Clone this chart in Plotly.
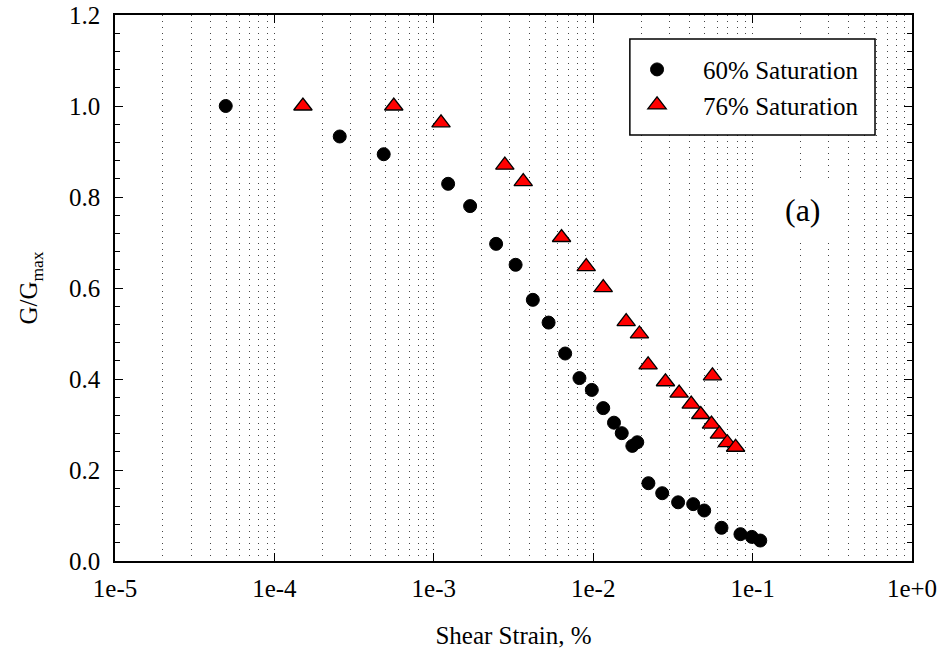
import plotly.graph_objects as go

# 60% Saturation (circles)
strain_60 = [4.95e-5, 2.57e-4, 4.85e-4, 1.23e-3, 1.69e-3, 2.46e-3, 3.26e-3, 4.18e-3,
             5.25e-3, 6.67e-3, 8.2e-3, 9.8e-3, 1.156e-2, 1.35e-2, 1.51e-2, 1.76e-2,
             1.89e-2, 2.22e-2, 2.71e-2, 3.41e-2, 4.24e-2, 4.97e-2, 6.38e-2, 8.39e-2,
             9.89e-2, 1.117e-1]
ggmax_60 = [1.0, 0.933, 0.894, 0.829, 0.780, 0.697, 0.651, 0.574,
            0.524, 0.456, 0.402, 0.376, 0.336, 0.304, 0.281, 0.253,
            0.261, 0.171, 0.149, 0.129, 0.125, 0.111, 0.073, 0.059,
            0.053, 0.045]

# 76% Saturation (triangles)
strain_76 = [1.51e-4, 5.61e-4, 1.11e-3, 2.79e-3, 3.64e-3, 6.33e-3, 9.04e-3, 1.156e-2,
             1.61e-2, 1.95e-2, 2.21e-2, 2.84e-2, 3.46e-2, 4.12e-2, 4.73e-2, 5.52e-2,
             5.6e-2, 6.19e-2, 6.94e-2, 7.82e-2]
ggmax_76 = [1.0, 1.0, 0.963, 0.870, 0.834, 0.711, 0.647, 0.601,
            0.526, 0.499, 0.431, 0.394, 0.369, 0.345, 0.322, 0.301,
            0.407, 0.279, 0.260, 0.250]

x_tickvals = [1e-5, 1e-4, 1e-3, 1e-2, 1e-1, 1e0]
x_ticktext = ["1e-5", "1e-4", "1e-3", "1e-2", "1e-1", "1e+0"]
y_tickvals = [0.0, 0.2, 0.4, 0.6, 0.8, 1.0, 1.2]
y_ticktext = ["0.0", "0.2", "0.4", "0.6", "0.8", "1.0", "1.2"]

FONT = "Times New Roman, serif"

fig = go.Figure()
fig.add_trace(go.Scatter(
    x=strain_60, y=ggmax_60, mode="markers", name="60% Saturation",
    marker=dict(symbol="circle", size=13, color="black", line=dict(color="black", width=1)),
))
fig.add_trace(go.Scatter(
    x=strain_76, y=ggmax_76, mode="markers", name="76% Saturation",
    marker=dict(symbol="triangle-up", size=16, color="#ff0000", line=dict(color="black", width=1.3)),
))

fig.update_layout(
    width=943, height=655,
    margin=dict(l=115, r=31, t=15, b=94),
    paper_bgcolor="white", plot_bgcolor="white",
    font=dict(family=FONT, size=24, color="black"),
    showlegend=True,
    legend=dict(
        x=0.6224, y=0.942, xanchor="left", yanchor="top",
        bgcolor="rgba(0,0,0,0)", borderwidth=0,
        font=dict(family=FONT, size=25),
        itemwidth=82, tracegroupgap=0,
    ),
    shapes=[dict(
        type="rect", xref="paper", yref="paper",
        x0=0.646, x1=0.9536, y0=0.780, y1=0.956,
        line=dict(color="black", width=1.5), fillcolor="white", layer="above",
    )],
    xaxis=dict(
        type="log", range=[-5, 0], automargin=False,
        tickvals=x_tickvals, ticktext=x_ticktext,
        ticks="inside", ticklen=8, tickwidth=1.2, tickcolor="black",
        showline=True, linecolor="black", linewidth=1.5, mirror="ticks",
        showgrid=False, zeroline=False, ticklabelstandoff=4,
        minor=dict(dtick="D1", showgrid=True, griddash="1px,5px", gridcolor="#444444",
                   gridwidth=1, ticks=""),
        title=dict(text="Shear Strain, %", font=dict(family=FONT, size=25), standoff=26),
        tickfont=dict(family=FONT, size=25),
    ),
    yaxis=dict(
        range=[0, 1.2], automargin=False,
        tickvals=y_tickvals, ticktext=y_ticktext,
        ticks="inside", ticklen=8, tickwidth=1.2, tickcolor="black",
        showline=True, linecolor="black", linewidth=1.5, mirror="allticks",
        showgrid=False, zeroline=False, ticklabelstandoff=8,
        minor=dict(dtick=0.04, tick0=0, ticks="inside", ticklen=5, tickwidth=1, tickcolor="black"),
        title=dict(text="G/G<sub>max</sub>", font=dict(family=FONT, size=25), standoff=24),
        tickfont=dict(family=FONT, size=25),
    ),
    annotations=[dict(
        text="(a)", x=0.863, y=0.643, xref="paper", yref="paper",
        xanchor="center", yanchor="middle",
        showarrow=False, font=dict(family=FONT, size=32, color="black"),
        bgcolor="white", borderpad=10,
    )],
)

fig.write_html("out.html", config={"displayModeBar": False},
               post_script="document.body.style.margin='0px';")
